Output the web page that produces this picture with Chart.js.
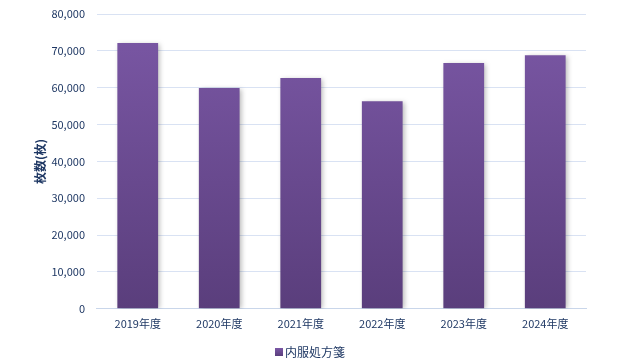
<!DOCTYPE html>
<html>
<head>
<meta charset="utf-8">
<script src="https://cdn.jsdelivr.net/npm/chart.js@4"></script>
<style>
  html, body { margin: 0; padding: 0; background: #fff; }
  #wrap { width: 626px; height: 363px; }
</style>
</head>
<body>
<div id="wrap"><canvas id="chart" width="626" height="363"></canvas></div>
<script>
// chart data
const years = ['2019年度', '2020年度', '2021年度', '2022年度', '2023年度', '2024年度'];
const counts = [72100, 59900, 62600, 56300, 66700, 68800];
const seriesName = '内服処方箋';
const axisTitle = '枚数(枚)';

const textColor = '#1F3864';
const font = 'Noto Sans CJK JP';

const makeGradient = (ctx, top, bottom) => {
  const g = ctx.createLinearGradient(0, top, 0, bottom);
  g.addColorStop(0, '#7B58A6');
  g.addColorStop(1, '#5A3E7C');
  return g;
};

const barFill = (context) => {
  const { chart } = context;
  const area = chart.chartArea;
  if (!area) return '#6B4C94';
  return makeGradient(chart.ctx, area.top, area.bottom);
};

// soft drop shadow behind the bars
const barShadow = {
  id: 'barShadow',
  beforeDatasetsDraw(chart) {
    const ctx = chart.ctx;
    ctx.save();
    ctx.shadowColor = 'rgba(0,0,0,0.28)';
    ctx.shadowBlur = 5;
    ctx.shadowOffsetX = 2;
    ctx.shadowOffsetY = 1;
  },
  afterDatasetsDraw(chart) {
    chart.ctx.restore();
  }
};

// legend drawn by hand so it sits where the original one does
const bottomLegend = {
  id: 'bottomLegend',
  afterDraw(chart) {
    const ctx = chart.ctx;
    const y = chart.height - 11;
    ctx.save();
    ctx.font = '12px "' + font + '"';
    const label = chart.data.datasets[0].label;
    const textW = ctx.measureText(label).width;
    const total = 8 + 2 + textW;
    const x0 = 310 - total / 2;
    ctx.fillStyle = makeGradient(ctx, y - 4, y + 4);
    ctx.fillRect(x0, y - 4, 8, 8);
    ctx.fillStyle = textColor;
    ctx.textBaseline = 'middle';
    ctx.textAlign = 'left';
    ctx.fillText(label, x0 + 10, y);
    ctx.restore();
  }
};

new Chart(document.getElementById('chart').getContext('2d'), {
  type: 'bar',
  data: {
    labels: years,
    datasets: [{
      label: seriesName,
      data: counts,
      backgroundColor: barFill,
      borderWidth: 0,
      barPercentage: 0.5,
      categoryPercentage: 1.0
    }]
  },
  options: {
    responsive: false,
    animation: false,
    layout: { padding: { top: 14, right: 40, left: 26, bottom: 17 } },
    plugins: {
      legend: { display: false },
      tooltip: { enabled: false }
    },
    scales: {
      x: {
        grid: { display: false },
        border: { color: '#C9D6EA' },
        ticks: { color: textColor, font: { family: font, size: 11 }, padding: 0 },
        afterFit: (scale) => { scale.height += 16; }
      },
      y: {
        min: 0,
        max: 80000,
        ticks: {
          stepSize: 10000,
          color: textColor,
          font: { family: font, size: 11 },
          padding: 12,
          callback: (v) => v.toLocaleString('en-US')
        },
        grid: { color: '#D9E2F3', drawTicks: false },
        border: { display: false },
        title: {
          display: true,
          text: axisTitle,
          color: textColor,
          font: { family: font, size: 12, weight: 'bold' },
          padding: { top: 7, bottom: 0 }
        },
        afterFit: (scale) => {
          scale.width -= 8;
          scale.paddingTop = 0;
        }
      }
    }
  },
  plugins: [barShadow, bottomLegend]
});
</script>
</body>
</html>
